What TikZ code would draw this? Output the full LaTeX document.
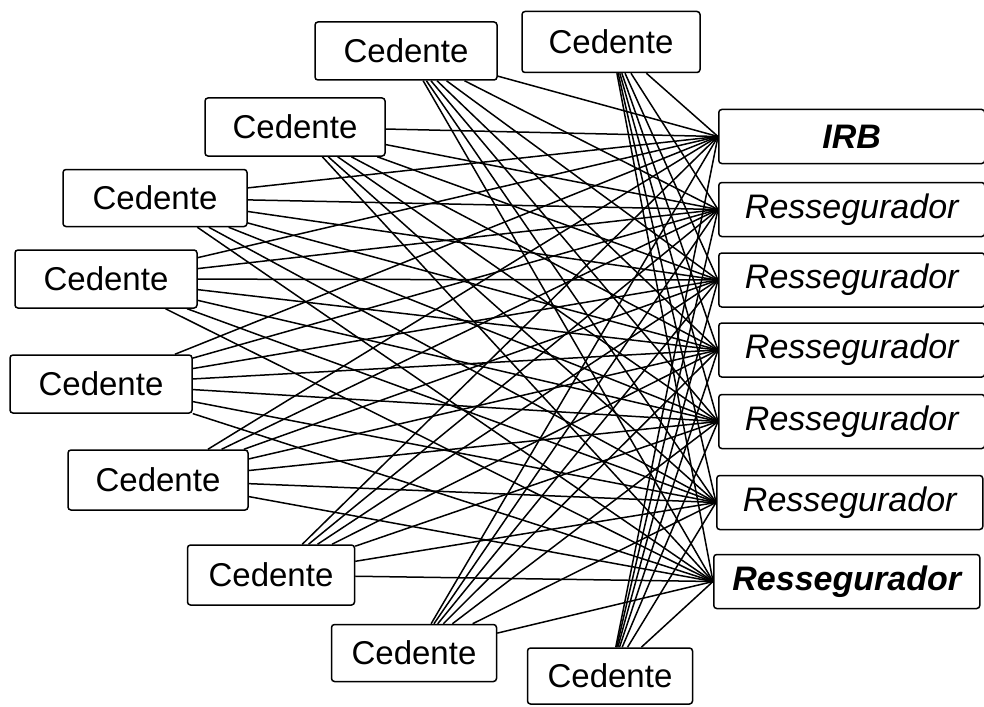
\documentclass[tikz,border=0pt]{standalone}
\usepackage{fontspec}
\setsansfont{Liberation Sans}
\begin{document}
\begin{tikzpicture}[x=1pt,y=-1pt,
  cbox/.style={draw,line width=1.5pt,rounded corners=3pt,inner sep=0pt,font=\sffamily\fontsize{33}{38}\selectfont},
  rbox/.style={draw,line width=1.5pt,rounded corners=3pt,inner sep=0pt,anchor=west,minimum width=266pt,minimum height=54pt,font=\sffamily\itshape\fontsize{34}{40}\selectfont},
  link/.style={line width=1.5pt}]
\useasboundingbox (0,0) rectangle (984,706);
% Cedentes
\node[cbox,minimum width=182pt,minimum height=58pt] (c1) at (406,51) {Cedente};
\node[cbox,minimum width=178pt,minimum height=61pt] (c2) at (611,42) {Cedente};
\node[cbox,minimum width=180pt,minimum height=58pt] (c3) at (295,127) {Cedente};
\node[cbox,minimum width=184pt,minimum height=57pt] (c4) at (155,198) {Cedente};
\node[cbox,minimum width=182pt,minimum height=58pt] (c5) at (106,279) {Cedente};
\node[cbox,minimum width=182pt,minimum height=58pt] (c6) at (101,384) {Cedente};
\node[cbox,minimum width=180pt,minimum height=60pt] (c7) at (158,480) {Cedente};
\node[cbox,minimum width=167pt,minimum height=60pt] (c8) at (271,575) {Cedente};
\node[cbox,minimum width=165pt,minimum height=57pt] (c9) at (414,653) {Cedente};
\node[cbox,minimum width=165pt,minimum height=56pt] (c10) at (610,676) {Cedente};
% Right side
\node[rbox,font=\sffamily\bfseries\itshape\fontsize{34}{40}\selectfont] (r0) at (718,136.5) {IRB};
\node[rbox] (r1) at (718,209.5) {Ressegurador};
\node[rbox] (r2) at (718,280) {Ressegurador};
\node[rbox] (r3) at (718,350) {Ressegurador};
\node[rbox] (r4) at (718,421.5) {Ressegurador};
\node[rbox] (r5) at (716,502.5) {Ressegurador};
\node[rbox,font=\sffamily\bfseries\itshape\fontsize{34}{40}\selectfont] (r6) at (713,581.5) {Ressegurador};
% Connectors: every cedente to every reinsurer
\foreach \i in {1,...,10}{
  \foreach \j in {0,...,6}{
    \draw[link] (c\i) -- (r\j.west);
  }
}
\end{tikzpicture}
\end{document}
